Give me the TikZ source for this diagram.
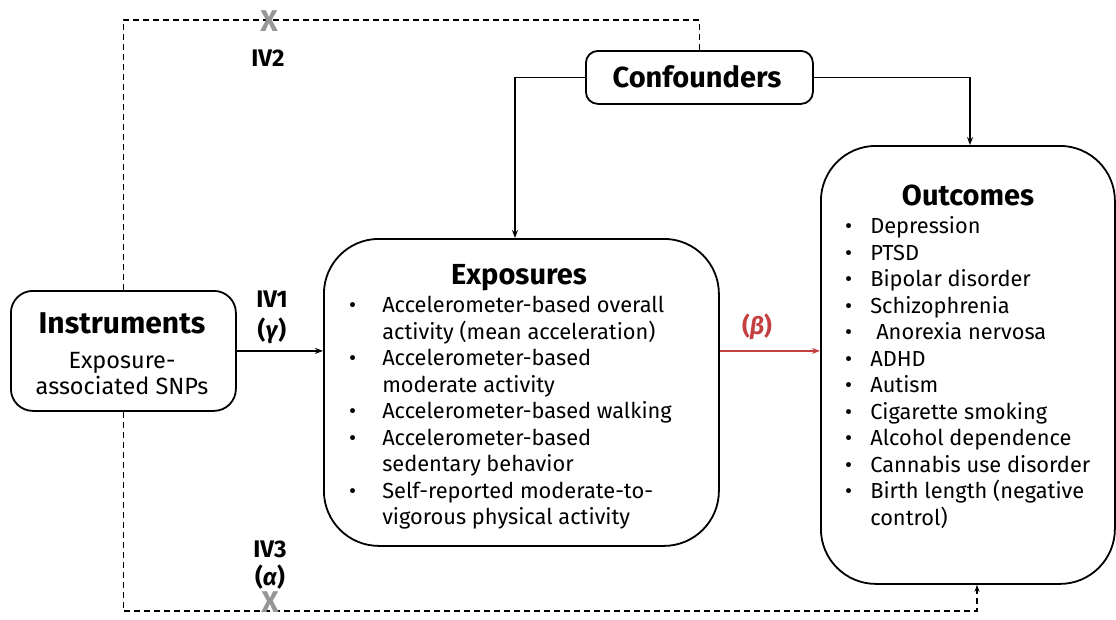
\documentclass[tikz,border=0pt]{standalone}
\usepackage{fontspec}
\setmainfont{Fira Sans}
\usetikzlibrary{arrows.meta}
\definecolor{betared}{RGB}{196,64,64}
\definecolor{xgray}{RGB}{150,150,150}
\begin{document}
\begin{tikzpicture}[x=1pt,y=-1pt,
  box/.style={draw, line width=1.8pt, rounded corners=#1, inner sep=0pt, anchor=north west},
  arr/.style={line width=1.3pt, -{Stealth[length=8pt,width=6pt]}},
  dsh/.style={line width=1.4pt, dash pattern=on 6pt off 4pt},
  ttl/.style={font=\fontsize{29}{32}\selectfont\bfseries, anchor=base},
  lbl/.style={font=\fontsize{24}{28}\selectfont\bfseries, anchor=base},
  body/.style={font=\fontsize{21.8}{26.5}\selectfont, anchor=north west, inner sep=0pt, align=left},
  xmark/.style={font=\fontsize{30}{30}\selectfont\bfseries, text=xgray, inner sep=0pt}]
\useasboundingbox (0,0) rectangle (1116,619);

% boxes
\node[box=22pt, minimum width=225pt, minimum height=120pt] (inst) at (10,290) {};
\node[box=55pt, minimum width=395pt, minimum height=307pt] (exp) at (323,238) {};
\node[box=55pt, minimum width=294pt, minimum height=438pt] (out) at (820,145) {};
\node[box=12pt, minimum width=227pt, minimum height=53pt] (conf) at (585,50) {};

% texts
\node[font=\fontsize{30}{32}\selectfont\bfseries, anchor=base] (instT) at (122,333) {Instruments};
\node[font=\fontsize{23.5}{26}\selectfont, anchor=base, align=center] (instB) at (122,368) {Exposure-};
\node[font=\fontsize{23.5}{26}\selectfont, anchor=base, align=center] (instC) at (122,394) {associated SNPs};
\node[ttl] (expT) at (519,284) {Exposures};
\node[ttl] (outT) at (968,205) {Outcomes};
\node[font=\fontsize{29}{32}\selectfont\bfseries, anchor=base] (confT) at (697,87) {Confounders};

\node[body] (expL) at (349,294) {\begin{tabular}{@{}l@{\hspace{26pt}}l@{}}
\textbullet & Accelerometer-based overall\\
 & activity (mean acceleration)\\
\textbullet & Accelerometer-based\\
 & moderate activity\\
\textbullet & Accelerometer-based walking\\
\textbullet & Accelerometer-based\\
 & sedentary behavior\\
\textbullet & Self-reported moderate-to-\\
 & vigorous physical activity
\end{tabular}};

\node[body] (outL) at (845,215) {\begin{tabular}{@{}l@{\hspace{18pt}}l@{}}
\textbullet & Depression\\
\textbullet & PTSD\\
\textbullet & Bipolar disorder\\
\textbullet & Schizophrenia\\
\textbullet & \hspace{6pt}Anorexia nervosa\\
\textbullet & ADHD\\
\textbullet & Autism\\
\textbullet & Cigarette smoking\\
\textbullet & Alcohol dependence\\
\textbullet & Cannabis use disorder\\
\textbullet & Birth length (negative\\
 & control)
\end{tabular}};

% labels
\node[lbl] (iv2) at (268,66) {IV2};
\node[lbl] (iv1) at (272,307) {IV1};
\node[lbl] (gam) at (272,338) {(\textit{γ})};
\node[lbl, text=betared] (beta) at (757,334) {(\textit{β})};
\node[lbl] (iv3) at (270,557) {IV3};
\node[lbl] (alp) at (270,585) {(\textit{α})};

% connectors
\draw[arr] (conf.west) -| (515,0 |- exp.north);
\draw[arr] (conf.east) -| (970,0 |- out.north);
\draw[arr] (inst.east) -- (inst.east -| exp.west);
\draw[arr, draw=betared, fill=betared] (exp.east |- inst.east) -- (out.west |- inst.east);
\draw[dsh] (inst.north) -- (inst.north |- 0,20) -| (conf.north);
\draw[dsh, -{Stealth[length=7pt,width=5pt]}] (inst.south) -- (inst.south |- 0,611) -| (977,0 |- out.south);

% X marks
\node[xmark] (x2) at (269,21) {X};
\node[xmark] (x3) at (270,602) {X};
\end{tikzpicture}
\end{document}
